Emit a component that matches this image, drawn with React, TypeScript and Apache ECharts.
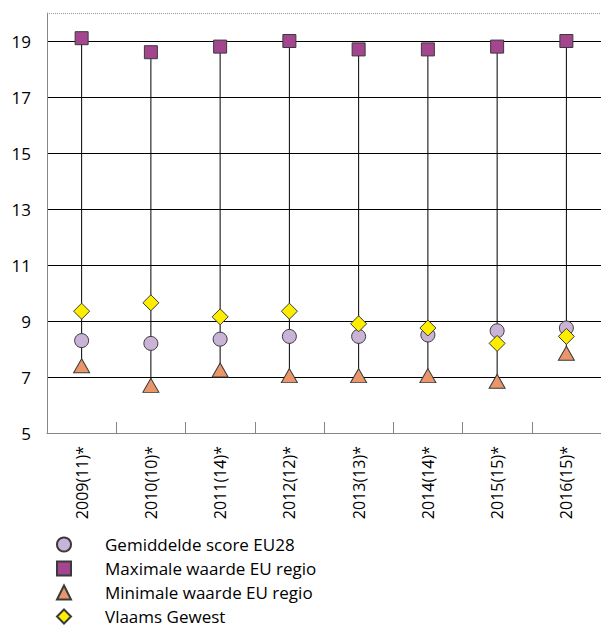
import React, { useEffect, useRef } from "react";
import * as echarts from "echarts";

const categories = [
  "2009(11)*",
  "2010(10)*",
  "2011(14)*",
  "2012(12)*",
  "2013(13)*",
  "2014(14)*",
  "2015(15)*",
  "2016(15)*",
];
const avgEU28 = [8.3, 8.2, 8.35, 8.45, 8.45, 8.5, 8.65, 8.75];
const maxRegion = [19.1, 18.6, 18.8, 19.0, 18.7, 18.7, 18.8, 19.0];
const minRegion = [7.4, 6.7, 7.25, 7.05, 7.05, 7.05, 6.85, 7.85];
const vlaams = [9.35, 9.65, 9.15, 9.35, 8.9, 8.75, 8.2, 8.45];

const seriesNames = [
  "Gemiddelde score EU28",
  "Maximale waarde EU regio",
  "Minimale waarde EU regio",
  "Vlaams Gewest",
];
const yMin = 5;
const yMax = 20;
const yInterval = 2;

const FONT = "'Open Sans', sans-serif";
const BORDER = "#3a3a3a";

export default function App() {
  const ref = useRef<HTMLDivElement>(null);
  useEffect(() => {
    if (!ref.current) return;
    const chart = echarts.init(ref.current, undefined, { renderer: "svg" });
    const marker = (
      name: string,
      data: number[],
      symbol: string,
      size: number | number[],
      color: string,
      z: number
    ) => ({
      name,
      type: "scatter",
      data,
      symbol,
      symbolSize: size,
      z,
      itemStyle: { color, borderColor: BORDER, borderWidth: 1, opacity: 1 },
      emphasis: { disabled: true },
    });
    chart.setOption({
      animation: false,
      textStyle: { fontFamily: FONT },
      grid: { left: 47, right: 0, top: 13, bottom: 194, containLabel: false },
      xAxis: {
        type: "category",
        data: categories,
        boundaryGap: true,
        axisLine: { show: true, lineStyle: { color: "#868686", width: 1 } },
        axisTick: {
          show: true,
          inside: true,
          length: 11,
          lineStyle: { color: "#868686", width: 1 },
        },
        axisLabel: {
          rotate: 90,
          fontSize: 16,
          color: "#000",
          margin: 13,
          fontFamily: FONT,
          interval: 0,
        },
        splitLine: { show: false },
      },
      yAxis: {
        type: "value",
        min: yMin,
        max: yMax,
        interval: yInterval,
        axisLine: { show: true, lineStyle: { color: "#868686", width: 1 } },
        axisTick: { show: false },
        axisLabel: {
          fontSize: 17,
          color: "#000",
          margin: 16,
          fontFamily: FONT,
          showMaxLabel: false,
        },
        splitLine: {
          show: true,
          showMinLine: false,
          showMaxLine: false,
          lineStyle: { color: "#000", width: 1 },
        },
      },
      legend: {
        data: seriesNames,
        orient: "vertical",
        left: 56,
        top: 536,
        height: 100,
        padding: 0,
        itemWidth: 14,
        itemHeight: 14,
        itemGap: 7,
        selectedMode: false,
        textStyle: {
          fontSize: 17,
          color: "#000",
          fontFamily: FONT,
          padding: [0, 0, 0, 29],
        },
      },
      series: [
        {
          type: "custom",
          name: "hilo",
          z: 1,
          silent: true,
          encode: { x: 0, y: [1, 2] },
          data: categories.map((_, i) => [i, minRegion[i], maxRegion[i]]),
          renderItem: (params: any, api: any) => {
            const lo = api.coord([api.value(0), api.value(1)]);
            const hi = api.coord([api.value(0), api.value(2)]);
            return {
              type: "line",
              shape: { x1: lo[0], y1: lo[1], x2: hi[0], y2: hi[1] },
              style: { stroke: "#000", lineWidth: 1 },
            };
          },
          markLine: {
            silent: true,
            symbol: "none",
            label: { show: false },
            lineStyle: { type: "dotted", color: "#9a9a9a", width: 1 },
            data: [{ yAxis: yMax }],
          },
        },
        marker(seriesNames[0], avgEU28, "circle", 14, "#C9B3D6", 2),
        marker(seriesNames[1], maxRegion, "rect", 13, "#A3468F", 3),
        marker(seriesNames[2], minRegion, "triangle", [16, 14], "#E9966B", 4),
        marker(seriesNames[3], vlaams, "diamond", [16, 16], "#FFED00", 5),
      ],
    });
    return () => chart.dispose();
  }, []);
  return (
    <div
      ref={ref}
      style={{ position: "fixed", left: 0, top: 0, width: 601, height: 627, background: "#fff" }}
    />
  );
}
